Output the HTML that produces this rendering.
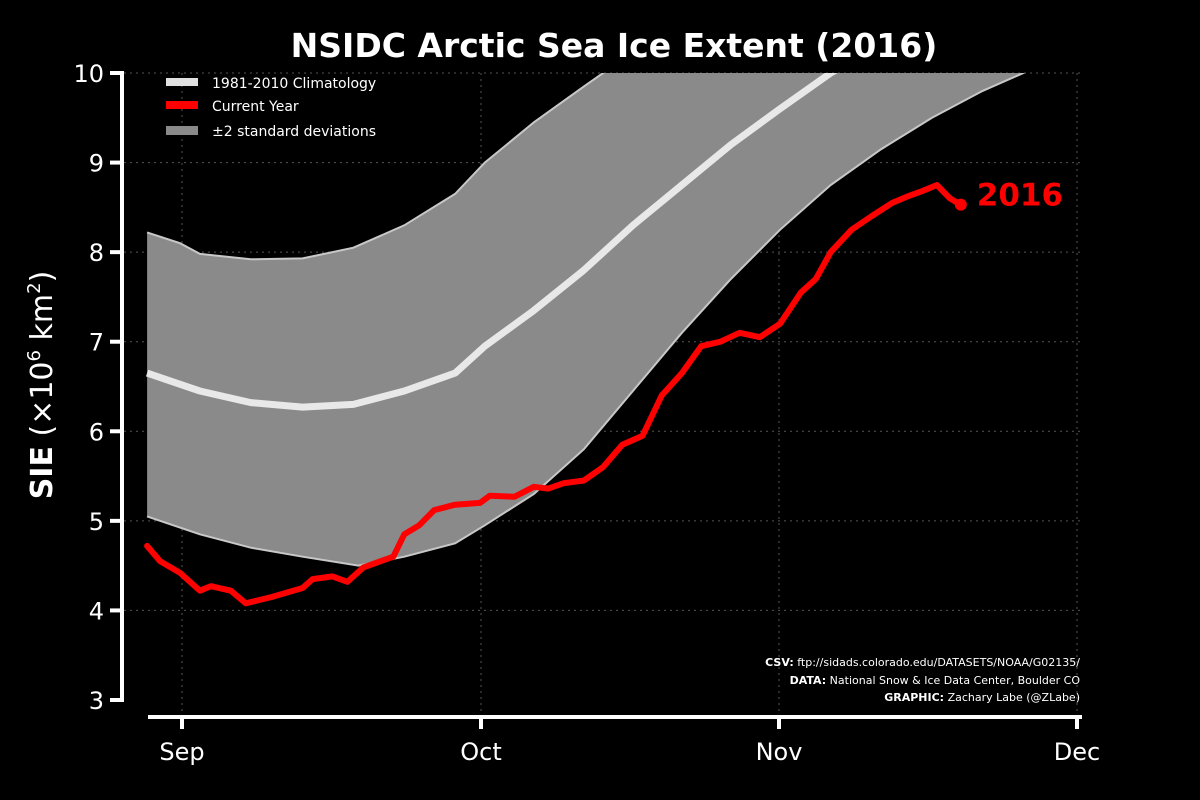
<!DOCTYPE html>
<html><head><meta charset="utf-8"><style>
html,body{margin:0;padding:0;background:#000;}
svg{display:block;font-family:"DejaVu Sans","Liberation Sans",sans-serif;}
</style></head><body>
<svg id="chart" width="1200" height="800" viewBox="0 0 1200 800">
<defs><clipPath id="plotclip"><rect x="124" y="73" width="960" height="640"/></clipPath></defs>
<text x="614" y="57" text-anchor="middle" fill="#fff" font-size="33" font-weight="bold">NSIDC Arctic Sea Ice Extent (2016)</text>
<g id="grid"></g>
<g id="marks" clip-path="url(#plotclip)"></g>
<g id="axes"></g>
<text transform="translate(52,385) rotate(-90)" text-anchor="middle" fill="#fff" font-size="30"><tspan font-weight="bold">SIE</tspan> (×10<tspan font-size="18" dy="-12">6</tspan><tspan dy="12"> km</tspan><tspan font-size="18" dy="-12">2</tspan><tspan dy="12">)</tspan></text>
<g>
<rect x="166" y="78" width="32" height="8" fill="#e0e0e0"/>
<text x="212" y="88" fill="#fff" font-size="14">1981-2010 Climatology</text>
<rect x="166" y="101" width="32" height="8" fill="#ff0000"/>
<text x="212" y="111" fill="#fff" font-size="14">Current Year</text>
<rect x="166" y="126" width="32" height="9" fill="#8a8a8a"/>
<text x="212" y="136" fill="#fff" font-size="14">±2 standard deviations</text>
</g>
<g font-size="11" fill="#fff" text-anchor="end">
<text x="1080" y="666"><tspan font-weight="bold">CSV:</tspan> ftp://sidads.colorado.edu/DATASETS/NOAA/G02135/</text>
<text x="1080" y="684"><tspan font-weight="bold">DATA:</tspan> National Snow &amp; Ice Data Center, Boulder CO</text>
<text x="1080" y="701"><tspan font-weight="bold">GRAPHIC:</tspan> Zachary Labe (@ZLabe)</text>
</g>
</svg>
<script>
const yTicks=[3,4,5,6,7,8,9,10];
const monthLabels=["Sep","Oct","Nov","Dec"];
const monthDays=[0,30,61,91];
const climDays=[-3.5,1.8,6.9,12.1,17.2,22.3,27.4,30.4,35.5,40.7,45.8,50.9,56,61.1,66.2,71];
const climVals=[6.65,6.45,6.32,6.27,6.3,6.45,6.65,6.95,7.35,7.8,8.3,8.75,9.2,9.6,10.0,10.3];
const upperDays=[-3.5,-0.2,1.8,6.9,12.1,17.2,22.3,27.4,30.4,35.5,40.7,42.7,48];
const upperVals=[8.22,8.1,7.98,7.92,7.93,8.05,8.3,8.65,9.0,9.45,9.85,10.0,10.4];
const lowerDays=[-3.5,1.8,6.9,12.1,17.7,22.3,27.4,30.4,35.5,40.7,45.8,50.9,56,61.1,66.2,71.3,76.4,81.5,85.6,90];
const lowerVals=[5.05,4.85,4.7,4.6,4.5,4.6,4.75,4.95,5.3,5.8,6.45,7.1,7.7,8.25,8.75,9.15,9.5,9.8,10.0,10.3];
const redDays=[-3.5,-2.2,-0.2,1.8,2.9,4.9,6.4,9,12.1,13.1,15.1,16.6,18.2,21.2,22.3,23.8,25.3,27.4,29.9,30.9,33.5,35.5,37,38.6,40.7,42.7,44.7,46.8,48.8,50.9,52.9,54.9,56.9,59,61.1,63.2,64.7,66.2,68.3,70.3,72.4,73.9,75.4,76.9,78.2,79.3];
const redVals=[4.72,4.55,4.42,4.22,4.27,4.22,4.08,4.15,4.25,4.35,4.38,4.32,4.48,4.6,4.85,4.95,5.12,5.18,5.2,5.28,5.27,5.38,5.36,5.42,5.45,5.6,5.85,5.95,6.4,6.65,6.95,7.0,7.1,7.05,7.2,7.55,7.7,8.0,8.25,8.4,8.55,8.62,8.68,8.75,8.6,8.53];
const mPx=[182,481,779,1077];
function xs(d){let i=0;while(i<2&&d>monthDays[i+1])i++;return mPx[i]+(d-monthDays[i])*(mPx[i+1]-mPx[i])/(monthDays[i+1]-monthDays[i]);}
function ys(v){return 700-(v-3)*(627/7);}
const NS="http://www.w3.org/2000/svg";
function mk(t,a,p){const e=document.createElementNS(NS,t);for(const k in a)e.setAttribute(k,a[k]);p.appendChild(e);return e;}
const grid=document.getElementById('grid'),marks=document.getElementById('marks'),axes=document.getElementById('axes');
yTicks.forEach(v=>{if(v>3){const l=mk('line',{x1:124,x2:1082,y1:ys(v),y2:ys(v),stroke:'#555','stroke-dasharray':'2,4','stroke-width':1},grid);

}
const tk=mk('line',{x1:110,x2:124,y1:ys(v),y2:ys(v),stroke:'#fff','stroke-width':4},axes);


const t=mk('text',{x:104,y:ys(v)+9,'text-anchor':'end',fill:'#fff','font-size':24},axes);t.textContent=v;

});
monthDays.forEach((d,i)=>{const x=xs(d);
const g=mk('line',{x1:x,x2:x,y1:73,y2:715,stroke:'#555','stroke-dasharray':'2,4','stroke-width':1},grid);


const tk=mk('line',{x1:x,x2:x,y1:715,y2:729,stroke:'#fff','stroke-width':4},axes);


const t=mk('text',{x:x,y:760,'text-anchor':'middle',fill:'#fff','font-size':24},axes);t.textContent=monthLabels[i];

});
const ya=mk('line',{x1:122,x2:122,y1:71,y2:702,stroke:'#fff','stroke-width':4},axes);


const xa=mk('line',{x1:148,x2:1082,y1:717,y2:717,stroke:'#fff','stroke-width':4},axes);


function pts(D,V){return D.map((d,i)=>xs(d).toFixed(1)+','+ys(V[i]).toFixed(1));}
const band=mk('polygon',{points:pts(upperDays,upperVals).concat(pts(lowerDays,lowerVals).reverse()).join(' '),fill:'#8a8a8a'},marks);


const ue=mk('polyline',{points:pts(upperDays,upperVals).join(' '),fill:'none',stroke:'#c8c8c8','stroke-width':2},marks);


const le=mk('polyline',{points:pts(lowerDays,lowerVals).join(' '),fill:'none',stroke:'#c8c8c8','stroke-width':2},marks);


const cl=mk('polyline',{points:pts(climDays,climVals).join(' '),fill:'none',stroke:'#e8e8e8','stroke-width':7,'stroke-linejoin':'round'},marks);


const rl=mk('polyline',{points:pts(redDays,redVals).join(' '),fill:'none',stroke:'#ff0000','stroke-width':6,'stroke-linejoin':'round','stroke-linecap':'round'},marks);


const n=redDays.length-1;
const dot=mk('circle',{cx:xs(redDays[n]),cy:ys(redVals[n]),r:6,fill:'#ff0000'},document.getElementById('chart'));


const lab=mk('text',{x:xs(redDays[n])+16,y:ys(redVals[n])+1,fill:'#ff0000','font-size':31,'font-weight':'bold'},document.getElementById('chart'));
lab.textContent='2016';


</script>
</body></html>
